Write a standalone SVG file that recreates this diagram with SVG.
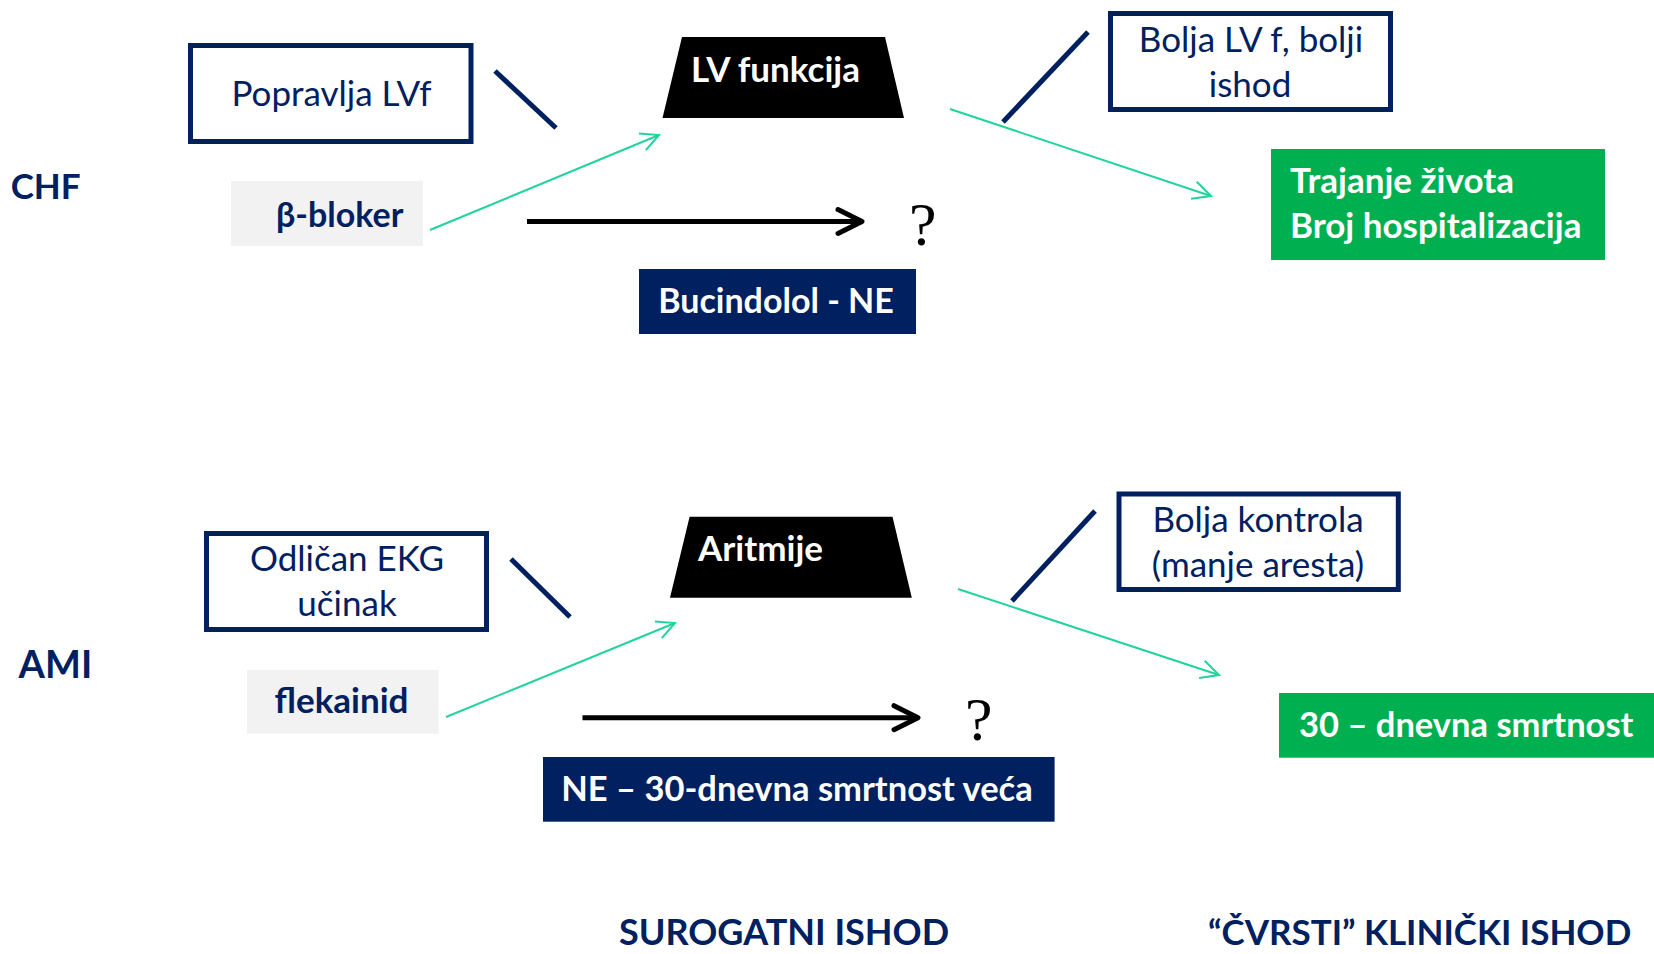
<svg xmlns="http://www.w3.org/2000/svg" width="1654" height="954" viewBox="0 0 1654 954">
<style>
.bg{fill:#ffffff}
.obox{fill:#ffffff;stroke:#002060;stroke-width:5}
.gray{fill:#f2f2f2}
.navy{fill:#002060}
.green{fill:#00b050}
.trap{fill:#000000}
.t{font-family:Lato,"Liberation Sans",sans-serif;font-size:35px;fill:#002060}
.b{font-family:Lato,"Liberation Sans",sans-serif;font-weight:bold;font-size:35px}
.tn{fill:#002060}
.tw{fill:#ffffff}
.q{font-family:"Liberation Serif",serif;font-size:62px;fill:#000000}
.c{text-anchor:middle}
.nl{stroke:#002060;stroke-width:5;fill:none}
.gl{stroke:#21d49b;stroke-width:2;fill:none}
.bl{stroke:#000000;stroke-width:5;fill:none}
</style>
<defs>
<marker id="ga" markerUnits="userSpaceOnUse" markerWidth="40" markerHeight="40" refX="0" refY="0" orient="auto" overflow="visible">
<path d="M-18,-9 L0,0 L-18,9" fill="none" stroke="#21d49b" stroke-width="2"/>
</marker>
<marker id="ba" markerUnits="userSpaceOnUse" markerWidth="40" markerHeight="40" refX="0" refY="0" orient="auto" overflow="visible">
<path d="M-24,-12 L0,0 L-24,12" fill="none" stroke="#000000" stroke-width="5" stroke-linecap="round" stroke-linejoin="round"/>
</marker>
</defs>
<rect class="bg" x="0" y="0" width="1654" height="954"/>

<g id="connectors">
<line class="nl" x1="495" y1="71" x2="556" y2="128"/>
<line class="nl" x1="1003" y1="122" x2="1088" y2="32"/>
<line class="nl" x1="511" y1="559" x2="570" y2="617"/>
<line class="nl" x1="1012" y1="601" x2="1095" y2="511"/>
<line class="gl" x1="430" y1="230" x2="659" y2="135" marker-end="url(#ga)"/>
<line class="gl" x1="950" y1="109" x2="1211" y2="196" marker-end="url(#ga)"/>
<line class="gl" x1="446" y1="717" x2="675" y2="623" marker-end="url(#ga)"/>
<line class="gl" x1="958" y1="589" x2="1219" y2="675" marker-end="url(#ga)"/>
<line class="bl" x1="527" y1="221.5" x2="862" y2="221.5" marker-end="url(#ba)"/>
<line class="bl" x1="582.5" y1="717.7" x2="918" y2="717.7" marker-end="url(#ba)"/>
</g>

<g id="chf"><text class="b tn" x="10.7" y="199" style="font-size:35px">CHF</text></g>
<g id="ami"><text class="b tn" x="18.6" y="678" style="font-size:38px">AMI</text></g>

<g id="popravlja">
<rect class="obox" x="190.5" y="45.5" width="280.5" height="96"/>
<text class="t c" x="331.5" y="106">Popravlja LVf</text>
</g>
<g id="beta">
<rect class="gray" x="231" y="181" width="192" height="65"/>
<text class="b tn" x="276" y="227" style="font-size:34px">β-bloker</text>
</g>
<g id="lvf">
<polygon class="trap" points="682,37 885,37 904,118 662.5,118"/>
<text class="b tw" x="691" y="82">LV funkcija</text>
</g>
<g id="q1"><text class="q" x="909" y="245">?</text></g>
<g id="bucindolol">
<rect class="navy" x="639" y="269" width="277" height="65"/>
<text class="b tw c" x="776" y="313" style="font-size:34px">Bucindolol - NE</text>
</g>
<g id="boljalv">
<rect class="obox" x="1110.5" y="13.5" width="280" height="96"/>
<text class="t c" x="1251" y="52">Bolja LV f, bolji</text>
<text class="t c" x="1250" y="97">ishod</text>
</g>
<g id="trajanje">
<rect class="green" x="1271" y="149" width="334" height="111"/>
<text class="b tw" x="1290" y="193">Trajanje života</text>
<text class="b tw" x="1290" y="238">Broj hospitalizacija</text>
</g>

<g id="odlican">
<rect class="obox" x="206.5" y="533.5" width="280" height="96"/>
<text class="t c" x="347" y="571">Odličan EKG</text>
<text class="t c" x="347" y="616">učinak</text>
</g>
<g id="flekainid">
<rect class="gray" x="247" y="670" width="191.6" height="63.7"/>
<text class="b tn c" x="341.5" y="713">flekainid</text>
</g>
<g id="aritmije">
<polygon class="trap" points="689.6,516.7 892.5,516.7 911.8,597.7 670,597.7"/>
<text class="b tw" x="698" y="561">Aritmije</text>
</g>
<g id="q2"><text class="q" x="965" y="740">?</text></g>
<g id="ne30">
<rect class="navy" x="543" y="757" width="511.6" height="64.7"/>
<text class="b tw c" x="797" y="801" style="font-size:34.5px">NE – 30-dnevna smrtnost veća</text>
</g>
<g id="boljakontrola">
<rect class="obox" x="1119" y="494" width="279.3" height="95.5"/>
<text class="t c" x="1258" y="531.7">Bolja kontrola</text>
<text class="t c" x="1258" y="576.7">(manje aresta)</text>
</g>
<g id="smrtnost">
<rect class="green" x="1279" y="693" width="375" height="64.7"/>
<text class="b tw" x="1299" y="737" style="font-size:34.5px">30 – dnevna smrtnost</text>
</g>

<g id="surogatni"><text class="b tn" x="619" y="945" style="font-size:36px">SUROGATNI ISHOD</text></g>
<g id="cvrsti"><text class="b tn" x="1208" y="945" style="font-size:35px">“ČVRSTI” KLINIČKI ISHOD</text></g>
</svg>
